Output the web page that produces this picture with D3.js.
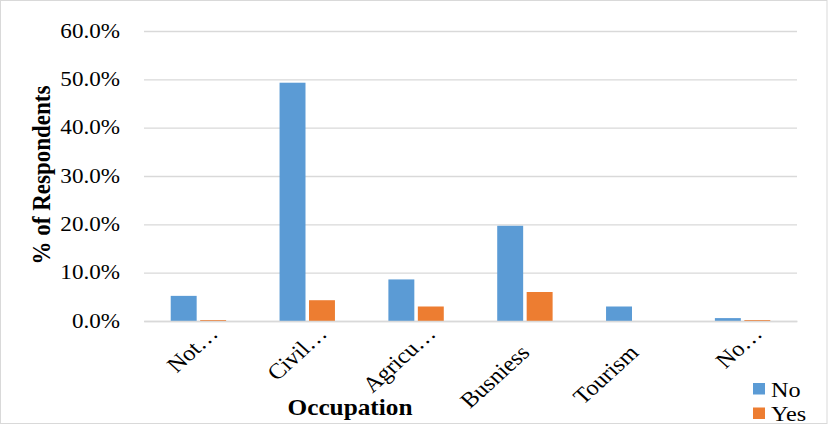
<!DOCTYPE html>
<html>
<head>
<meta charset="utf-8">
<script src="https://cdn.jsdelivr.net/npm/d3@7"></script>
<style>
  body { margin: 0; background: #fff; }
  text { font-family: "Liberation Serif", "Times New Roman", serif; fill: #000; }
</style>
</head>
<body>
<div class="bg"></div>
<script>
// data
const categories = ["Not\u2026", "Civil\u2026", "Agricu\u2026", "Busniess", "Tourism", "No\u2026"];
const seriesNames = ["No", "Yes"];
const noValues = [5.2, 49.3, 8.6, 19.7, 3.0, 0.6];
const yesValues = [0.2, 4.3, 3.0, 6.0, 0, 0.2];
const yTicks = [0, 10, 20, 30, 40, 50, 60];

const colors = { No: "#5B9BD5", Yes: "#ED7D31" };
const stretch = 1.1; // the picture is a bit wider than it is tall

const W = 835, H = 430;
const plot = { left: 144, right: 797, top: 31, bottom: 321 };

const svg = d3.select(".bg").append("svg")
  .attr("width", W)
  .attr("height", H);

// frame round the chart
svg.append("rect")
  .attr("x", 0.5).attr("y", 0.5)
  .attr("width", 826.5).attr("height", 423)
  .attr("fill", "none")
  .attr("stroke", "#d9d9d9");

const rows = categories.map((c, i) => ({ cat: c, No: noValues[i], Yes: yesValues[i] }));

const x0 = d3.scaleBand()
  .domain(categories)
  .range([plot.left, plot.right])
  .paddingInner(0.491)
  .paddingOuter(0.2455);

const x1 = d3.scaleBand()
  .domain(seriesNames)
  .range([0, x0.bandwidth()])
  .paddingInner(0.119);

const y = d3.scaleLinear().domain([0, 60]).range([plot.bottom, plot.top]);

// gridlines + y tick labels
const yAxis = d3.axisLeft(y)
  .tickValues(yTicks)
  .tickSize(-(plot.right - plot.left))
  .tickFormat(d => d.toFixed(1) + "%");

const gy = svg.append("g")
  .attr("class", "y-axis")
  .attr("transform", "translate(" + plot.left + ",0)")
  .call(yAxis);
gy.select(".domain").remove();
gy.selectAll(".tick line").attr("stroke", "#d9d9d9").attr("stroke-width", 1.3);
gy.selectAll(".tick text")
  .attr("x", null)
  .attr("dy", "0.3em")
  .attr("transform", "translate(-24,0) scale(" + stretch + ",1)")
  .style("font-size", "21px")
  .style("font-family", "'Liberation Serif', serif")
  .attr("fill", "#000");

// bars
const groups = svg.selectAll(".grp")
  .data(rows)
  .enter().append("g")
  .attr("class", "grp")
  .attr("transform", d => "translate(" + x0(d.cat) + ",0)");

groups.selectAll("rect")
  .data(d => seriesNames.map(s => ({ s: s, v: d[s] })))
  .enter().append("rect")
  .attr("x", d => x1(d.s))
  .attr("width", x1.bandwidth())
  .attr("y", d => y(d.v))
  .attr("height", d => y(0) - y(d.v))
  .attr("fill", d => colors[d.s]);

// x axis (baseline + rotated labels)
const xAxis = d3.axisBottom(x0).tickSize(0).tickSizeOuter(0);
const gx = svg.append("g")
  .attr("class", "x-axis")
  .attr("transform", "translate(0," + plot.bottom + ")")
  .call(xAxis);
gx.select(".domain").attr("stroke", "#d9d9d9").attr("stroke-width", 1.3);
// truncated labels sit higher up than the whole words in the original
gx.selectAll(".tick text")
  .attr("y", null)
  .attr("dy", null)
  .attr("text-anchor", "end")
  .attr("transform", d => {
    const off = d.endsWith("\u2026") ? [21, 14] : [6, 33];
    return "translate(" + off[0] + "," + off[1] + ") scale(" + stretch + ",1) rotate(-45)";
  })
  .style("font-size", "22px")
  .style("font-family", "'Liberation Serif', serif")
  .attr("fill", "#000");

// axis titles
svg.append("text")
  .attr("text-anchor", "middle")
  .attr("transform", "translate(350,415) scale(" + stretch + ",1)")
  .style("font-size", "23px")
  .style("font-weight", "bold")
  .text("Occupation");

svg.append("text")
  .attr("text-anchor", "middle")
  .attr("transform", "translate(50,175) scale(" + stretch + ",1) rotate(-90)")
  .style("font-size", "23px")
  .style("font-weight", "bold")
  .text("% of Respondents");

// legend
const legend = svg.selectAll(".legend")
  .data(seriesNames)
  .enter().append("g")
  .attr("class", "legend")
  .attr("transform", (d, i) => "translate(753," + (383 + i * 24.5) + ")");

legend.append("rect")
  .attr("width", 12).attr("height", 11.5)
  .attr("fill", d => colors[d]);

legend.append("text")
  .attr("transform", "translate(18,13.5) scale(" + stretch + ",1)")
  .style("font-size", "22px")
  .text(d => d);
</script>
</body>
</html>
